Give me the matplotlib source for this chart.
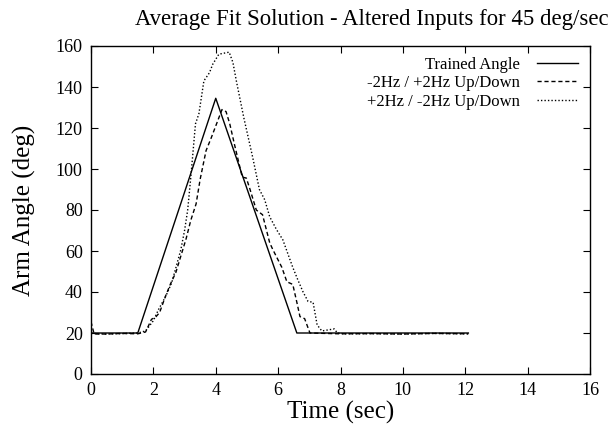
import matplotlib
matplotlib.use("Agg")
import matplotlib.pyplot as plt

plt.rcParams['font.family'] = ['Liberation Serif', 'DejaVu Serif']

# --- data ---
trained_t = [0.0, 1.5, 4.0, 6.6, 12.1]
trained_y = [20.0, 20.0, 134.5, 20.0, 20.0]

down_t = [0.0, 0.1, 0.5, 1.0, 1.5, 1.75, 1.94, 2.07, 2.2, 2.39, 2.55, 2.72,
          2.91, 3.05, 3.2, 3.37, 3.5, 3.69, 3.85, 4.05, 4.2, 4.33, 4.45,
          4.6, 4.85, 4.98, 5.1, 5.3, 5.5, 5.73, 5.83, 6.12, 6.28, 6.47,
          6.6, 6.7, 6.85, 7.02, 7.5, 8.0, 9.0, 10.0, 11.0, 12.1]
down_y = [25.5, 19.5, 19.5, 19.8, 19.6, 20.5, 26.7, 27.7, 30.0, 38.0, 44.0,
          49.5, 59.0, 66.0, 75.0, 83.0, 95.0, 109.0, 115.0, 123.0, 129.0,
          128.0, 122.0, 112.0, 96.0, 95.6, 90.0, 80.0, 77.7, 64.0, 60.7,
          52.0, 45.0, 43.7, 35.0, 28.0, 27.0, 20.0, 19.8, 19.6, 19.7, 19.5,
          19.8, 19.6]

up_t = [0.0, 0.5, 1.0, 1.5, 1.75, 2.0, 2.17, 2.4, 2.59, 2.88, 3.0, 3.1, 3.2,
        3.35, 3.46, 3.62, 3.8, 3.9, 4.1, 4.43, 4.55, 4.66, 4.9, 5.18, 5.4,
        5.57, 5.73, 5.95, 6.15, 6.47, 6.63, 6.8, 6.96, 7.12, 7.25, 7.4,
        7.6, 7.8, 7.9, 8.1, 9.0, 10.0, 11.0, 12.1]
up_y = [19.8, 19.5, 19.7, 20.0, 21.0, 26.0, 31.6, 38.0, 44.6, 60.6, 70.0,
        80.0, 96.0, 122.0, 127.0, 143.0, 147.0, 151.0, 156.0, 157.0, 152.0,
        143.0, 125.0, 106.0, 90.0, 85.0, 76.7, 70.4, 65.5, 52.0, 46.0,
        40.0, 35.4, 35.0, 24.0, 21.0, 21.5, 22.0, 20.0, 19.6, 19.7, 19.5,
        19.8, 19.6]

labels = ["Trained Angle", "-2Hz / +2Hz Up/Down", "+2Hz / -2Hz Up/Down"]

fig = plt.figure(figsize=(6.09, 4.28), dpi=100)
ax = fig.add_axes([91 / 609, 1 - 374 / 428, 499 / 609, 328 / 428])

ax.plot(trained_t, trained_y, color='black', lw=1.0, label=labels[0])
ax.plot(down_t, down_y, color='black', lw=1.0, ls=(0, (3, 2)), label=labels[1])
ax.plot(up_t, up_y, color='black', lw=1.0, ls=(0, (1, 1.5)), label=labels[2])

ax.set_xlim(0, 16)
ax.set_ylim(0, 160)
ax.set_xticks(range(0, 17, 2))
ax.set_yticks(range(0, 161, 20))
ax.tick_params(direction='in', top=True, right=True, length=5, width=0.8,
               labelsize=13, pad=6)
for s in ax.spines.values():
    s.set_linewidth(1.0)

ax.set_xlabel("Time (sec)", fontsize=18, labelpad=1)
ax.set_ylabel("Arm Angle (deg)", fontsize=18, labelpad=14)
fig.text(372 / 609, 1 - 20 / 428, "Average Fit Solution - Altered Inputs for 45 deg/sec",
         ha='center', va='center', fontsize=16.4)

ax.legend(loc='upper right', frameon=False, markerfirst=False, fontsize=12,
          handlelength=2.5, handletextpad=1.0, labelspacing=0.15,
          borderaxespad=0.3, bbox_to_anchor=(1.0, 1.003))

fig.savefig("out.png", dpi=100)
